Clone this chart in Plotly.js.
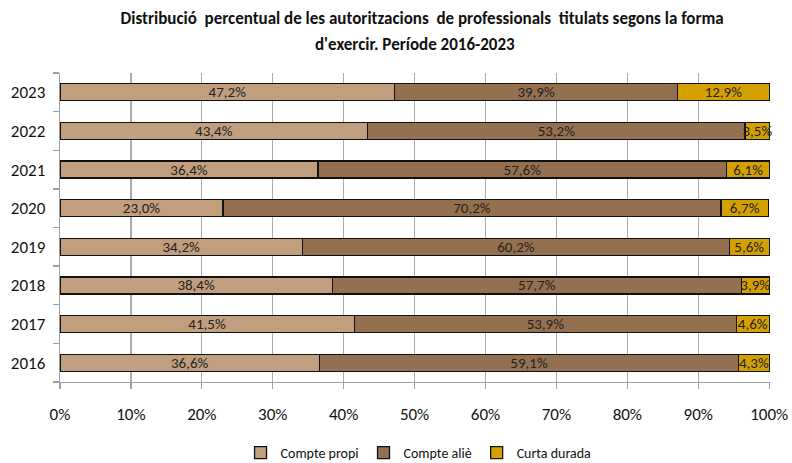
<!DOCTYPE html>
<html><head><meta charset="utf-8">
<script src="https://cdn.plot.ly/plotly-3.0.1.min.js"></script>
<style>html,body{margin:0;padding:0;background:#fff}#chart{width:792px;height:463px}</style>
</head><body><div id="chart"></div>
<script>
var years = ['2016','2017','2018','2019','2020','2021','2022','2023'];
var comptePropi = [36.6, 41.5, 38.4, 34.2, 23.0, 36.4, 43.4, 47.2];
var compteAlie  = [59.1, 53.9, 57.7, 60.2, 70.2, 57.6, 53.2, 39.9];
var curtaDurada = [4.3, 4.6, 3.9, 5.6, 6.7, 6.1, 3.5, 12.9];
var seriesNames = ['Compte propi', 'Compte aliè', 'Curta durada'];
var xTickVals = [0,10,20,30,40,50,60,70,80,90,100];
var titleLine1 = 'Distribució  percentual de les autoritzacions  de professionals  titulats segons la forma';
var titleLine2 = "d'exercir. Període 2016-2023";

var FONT = 'Carlito, "Liberation Sans Narrow", "DejaVu Sans Condensed", sans-serif';
var colors = ['#C09E7E', '#957050', '#D4A000'];
var data = [comptePropi, compteAlie, curtaDurada].map(function(vals, i){
  return {
    type: 'bar', orientation: 'h', name: seriesNames[i],
    y: years, x: vals,
    marker: {color: colors[i], line: {color: '#111', width: 1.3}},
    texttemplate: '%{x:.1f}%', textposition: 'inside', insidetextanchor: 'middle',
    textfont: {family: FONT, size: 15, color: '#222'},
    cliponaxis: false, hoverinfo: 'none'
  };
});
var layout = {
  width: 792, height: 463,
  margin: {l: 60, r: 22, t: 73, b: 81},
  barmode: 'stack', bargap: 0.56,
  separators: ',.',
  paper_bgcolor: '#fff', plot_bgcolor: '#fff',
  uniformtext: {mode: 'show', minsize: 15},
  title: {text: '<b>' + titleLine1 + '</b>',
          font: {family: FONT, size: 17, color: '#111'}, x: 0.533, xanchor: 'center',
          yref: 'container', y: 1 - 18/463, yanchor: 'middle'},
  annotations: [{text: '<b>' + titleLine2 + '</b>', xref: 'paper', yref: 'paper',
          x: 0.5, xanchor: 'center', y: 1 + (73-45)/309, yanchor: 'middle', showarrow: false,
          font: {family: FONT, size: 17, color: '#111'}}],
  xaxis: {range: [0, 100.12], tickvals: xTickVals, ticktext: xTickVals.map(function(v){return v+'%';}),
          showgrid: true, gridcolor: '#ababab', gridwidth: 1.3,
          showline: true, linecolor: '#a0a0a0', linewidth: 1.3,
          ticks: 'outside', ticklen: 6, tickcolor: '#a0a0a0', tickwidth: 1.3, ticklabelstandoff: 10,
          tickfont: {family: FONT, size: 17, color: '#111'}, zeroline: false, fixedrange: true, automargin: false},
  yaxis: {type: 'category', categoryorder: 'array', categoryarray: years,
          showline: true, linecolor: '#a0a0a0', linewidth: 1.3,
          ticks: 'outside', ticklen: 6, tickcolor: '#a0a0a0', tickwidth: 1.3, tickson: 'boundaries',
          showgrid: false, tickfont: {family: FONT, size: 17, color: '#111'}, ticklabelstandoff: 10,
          fixedrange: true, automargin: false},
  legend: {orientation: 'h', x: 0.505, xanchor: 'center', yref: 'container', y: 10/463, yanchor: 'middle',
           traceorder: 'normal', font: {family: FONT, size: 14, color: '#111'}, itemwidth: 30},
  showlegend: true
};
Plotly.newPlot('chart', data, layout, {staticPlot: true});
</script></body></html>
